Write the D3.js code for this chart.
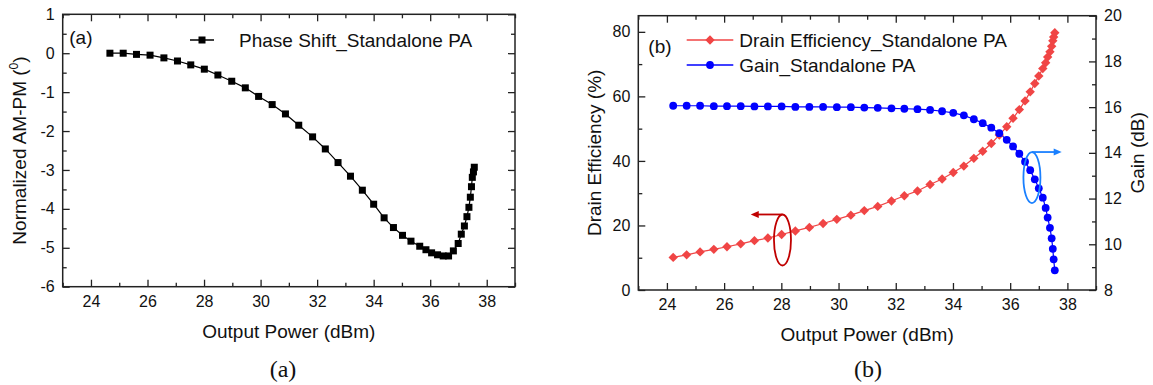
<!DOCTYPE html>
<html>
<head>
<meta charset="utf-8">
<script src="https://cdn.jsdelivr.net/npm/d3@7/dist/d3.min.js"></script>
<style>
  body { margin: 0; background: #fff; }
  svg { display: block; font-family: 'Liberation Sans', Arial, sans-serif; }
</style>
</head>
<body>
<div id="chart"></div>
<script>
// (a) normalized AM-PM vs output power
const phasePout = [24.67, 25.14, 25.61, 26.09, 26.58, 27.06, 27.53, 28.01, 28.49, 28.98,
  29.46, 29.93, 30.41, 30.88, 31.35, 31.84, 32.29, 32.74, 33.18, 33.6,
  34.0, 34.37, 34.7, 35.02, 35.32, 35.63, 35.85, 36.05, 36.26, 36.46,
  36.65, 36.82, 36.99, 37.1, 37.21, 37.3, 37.37, 37.42, 37.46, 37.49, 37.53, 37.56];
const phaseShift = [0, 0, -0.03, -0.05, -0.12, -0.2, -0.3, -0.41, -0.56, -0.72,
  -0.89, -1.11, -1.32, -1.56, -1.85, -2.15, -2.46, -2.81, -3.16, -3.52,
  -3.88, -4.23, -4.48, -4.68, -4.83, -4.96, -5.05, -5.13, -5.18, -5.21,
  -5.21, -5.08, -4.89, -4.65, -4.44, -4.2, -3.96, -3.7, -3.43, -3.19, -3.05, -2.93];

// (b) drain efficiency and gain vs output power
const pout = [24.22, 24.69, 25.16, 25.64, 26.1, 26.58, 27.06, 27.53, 28.01, 28.49,
  28.98, 29.46, 29.94, 30.43, 30.9, 31.37, 31.85, 32.3, 32.76, 33.2,
  33.62, 34.01, 34.38, 34.73, 35.04, 35.34, 35.62, 35.88, 36.1, 36.32,
  36.52, 36.7, 36.86, 37.0, 37.14, 37.24, 37.31, 37.39, 37.45, 37.49, 37.52, 37.56];
const drainEff = [10.1, 10.9, 11.8, 12.6, 13.4, 14.3, 15.3, 16.1, 17.2, 18.3,
  19.4, 20.6, 21.9, 23.2, 24.6, 25.9, 27.6, 29.2, 30.7, 32.7,
  34.4, 36.4, 38.4, 40.8, 43.0, 45.4, 48.0, 50.6, 53.2, 55.9,
  58.6, 61.4, 64.0, 66.3, 68.6, 70.4, 72.2, 73.8, 75.5, 77.2, 78.4, 79.7];
const gain = [16.06, 16.06, 16.06, 16.04, 16.04, 16.04, 16.03, 16.03, 16.03, 16.01,
  16.01, 16.01, 16.0, 16.0, 15.98, 15.97, 15.95, 15.93, 15.91, 15.88,
  15.82, 15.75, 15.64, 15.47, 15.3, 15.1, 14.86, 14.57, 14.28, 13.96,
  13.61, 13.24, 12.84, 12.45, 12.04, 11.59, 11.17, 10.72, 10.26, 9.8, 9.34, 8.86];

const xTicks = [24, 26, 28, 30, 32, 34, 36, 38];
const phaseTicks = [1, 0, -1, -2, -3, -4, -5, -6];
const deTicks = [0, 20, 40, 60, 80];
const gainTicks = [8, 10, 12, 14, 16, 18, 20];

// annotation anchors (data units): ellipse centre and arrow end
const deNote = { x: 28.04, y: 15.5, toX: 26.93 };
const gainNote = { x: 36.76, y: 12.92, toX: 37.8 };

const W = 1153, H = 385;
const AXIS = '#222';
const RED = '#f04545', BLUE = '#0000ff';
const plain = (d) => String(d); // keep ASCII hyphen for negatives

const svg = d3.select('#chart').append('svg').attr('width', W).attr('height', H);

function range(a, b, s) {
  const out = [];
  for (let v = a; v <= b + 1e-9; v += s) out.push(+v.toFixed(4));
  return out;
}

function styleAxis(sel) {
  sel.select('.domain').remove();
  sel.selectAll('line').attr('stroke', AXIS).attr('stroke-width', 1.3);
  sel.selectAll('text').attr('font-size', 16).attr('fill', '#111')
    .attr('font-family', "'Liberation Sans', Arial, sans-serif");
}

function frame(g, x, box) {
  const minorX = range(23, 39, 1).filter((v) => !xTicks.includes(v));
  g.append('g').attr('transform', `translate(0,${box.h})`)
    .call(d3.axisBottom(x).tickValues(xTicks).tickSizeInner(-7).tickSizeOuter(0).tickPadding(9).tickFormat(plain))
    .call(styleAxis);
  g.append('g').attr('transform', `translate(0,${box.h})`)
    .call(d3.axisBottom(x).tickValues(minorX).tickSizeInner(-4).tickSizeOuter(0).tickFormat(''))
    .call(styleAxis);
  g.append('g').call(d3.axisTop(x).tickValues(xTicks).tickSizeInner(-7).tickSizeOuter(0).tickFormat(''))
    .call(styleAxis);
  g.append('g').call(d3.axisTop(x).tickValues(minorX).tickSizeInner(-4).tickSizeOuter(0).tickFormat(''))
    .call(styleAxis);
  g.append('rect').attr('width', box.w).attr('height', box.h)
    .attr('fill', 'none').attr('stroke', AXIS).attr('stroke-width', 1.5);
}

function yAxis(g, y, ticks, minor, box, side, labelled) {
  const ax = side === 'left' ? d3.axisLeft : d3.axisRight;
  const tr = side === 'left' ? null : `translate(${box.w},0)`;
  g.append('g').attr('transform', tr)
    .call(ax(y).tickValues(ticks).tickSizeInner(-7).tickSizeOuter(0).tickPadding(8)
      .tickFormat(labelled ? plain : ''))
    .call(styleAxis);
  g.append('g').attr('transform', tr)
    .call(ax(y).tickValues(minor).tickSizeInner(-4).tickSizeOuter(0).tickFormat(''))
    .call(styleAxis);
}

// ---------- panel (a) ----------
const boxA = { l: 62.7, t: 14.3, w: 515 - 62.7, h: 286.7 - 14.3 };
const gA = svg.append('g').attr('transform', `translate(${boxA.l},${boxA.t})`);
const xA = d3.scaleLinear().domain([23, 39]).range([0, boxA.w]);
const yA = d3.scaleLinear().domain([-6, 1]).range([boxA.h, 0]);

yAxis(gA, yA, phaseTicks, range(-5.5, 0.5, 1), boxA, 'left', true);
yAxis(gA, yA, phaseTicks, range(-5.5, 0.5, 1), boxA, 'right', false);
frame(gA, xA, boxA);

const phasePts = phasePout.map((p, i) => [p, phaseShift[i]]);
gA.append('path').datum(phasePts)
  .attr('fill', 'none').attr('stroke', '#000').attr('stroke-width', 1.2)
  .attr('d', d3.line().x((d) => xA(d[0])).y((d) => yA(d[1])));
gA.selectAll('rect.pt').data(phasePts).join('rect').attr('class', 'pt')
  .attr('x', (d) => xA(d[0]) - 3.5).attr('y', (d) => yA(d[1]) - 3.5)
  .attr('width', 7).attr('height', 7).attr('fill', '#000');

gA.append('text').attr('x', 69.3 - boxA.l).attr('y', 44.5 - boxA.t)
  .attr('font-size', 19).attr('fill', '#111').text('(a)');
// legend (a)
const legA = gA.append('g').attr('transform', `translate(${190 - boxA.l},${40 - boxA.t})`);
legA.append('line').attr('x1', 0).attr('x2', 24).attr('stroke', '#000').attr('stroke-width', 1.5);
legA.append('rect').attr('x', 12 - 3.5).attr('y', -3.5).attr('width', 7).attr('height', 7).attr('fill', '#000');
legA.append('text').attr('x', 49).attr('y', 6.5).attr('font-size', 19).attr('fill', '#111')
  .text('Phase Shift_Standalone PA');

// titles (a)
svg.append('text').attr('x', (62.7 + 515) / 2).attr('y', 338).attr('text-anchor', 'middle')
  .attr('font-size', 19).attr('fill', '#111').text('Output Power (dBm)');
const tA = svg.append('text').attr('transform', `translate(26,${(14.3 + 286.7) / 2}) rotate(-90)`)
  .attr('text-anchor', 'middle').attr('font-size', 19).attr('fill', '#111');
tA.append('tspan').text('Normalized AM-PM (');
tA.append('tspan').attr('font-size', 12).attr('dy', -8).text('0');
tA.append('tspan').attr('dy', 8).text(')');

// ---------- panel (b) ----------
const boxB = { l: 638.3, t: 15.7, w: 1096 - 638.3, h: 290 - 15.7 };
const gB = svg.append('g').attr('transform', `translate(${boxB.l},${boxB.t})`);
const xB = d3.scaleLinear().domain([23, 39]).range([0, boxB.w]);
const yDE = d3.scaleLinear().domain([0, 85]).range([boxB.h, 0]);
const yG = d3.scaleLinear().domain([8, 20]).range([boxB.h, 0]);

yAxis(gB, yDE, deTicks, [10, 30, 50, 70], boxB, 'left', true);
yAxis(gB, yG, gainTicks, range(9, 19, 2), boxB, 'right', true);
frame(gB, xB, boxB);

const dePts = pout.map((p, i) => [p, drainEff[i]]);
const gPts = pout.map((p, i) => [p, gain[i]]);

gB.append('path').datum(dePts)
  .attr('fill', 'none').attr('stroke', RED).attr('stroke-width', 1.2)
  .attr('d', d3.line().x((d) => xB(d[0])).y((d) => yDE(d[1])));
gB.append('path').datum(gPts)
  .attr('fill', 'none').attr('stroke', BLUE).attr('stroke-width', 1.2)
  .attr('d', d3.line().x((d) => xB(d[0])).y((d) => yG(d[1])));

const diamond = (cx, cy, r) => `M${cx},${cy - r}L${cx + r},${cy}L${cx},${cy + r}L${cx - r},${cy}Z`;
gB.selectAll('path.de').data(dePts).join('path').attr('class', 'de')
  .attr('d', (d) => diamond(xB(d[0]), yDE(d[1]), 4.7)).attr('fill', RED);
gB.selectAll('circle.g').data(gPts).join('circle').attr('class', 'g')
  .attr('cx', (d) => xB(d[0])).attr('cy', (d) => yG(d[1])).attr('r', 3.9).attr('fill', BLUE);

// annotation ellipses + arrows
function note(n, y, color, dir) {
  const cx = xB(n.x), cy = y(n.y), ry = 25.5, rx = 8.5;
  gB.append('ellipse').attr('cx', cx).attr('cy', cy).attr('rx', rx).attr('ry', ry)
    .attr('fill', 'none').attr('stroke', color).attr('stroke-width', 1.8);
  const ay = cy - ry, ex = xB(n.toX);
  gB.append('line').attr('x1', cx).attr('y1', ay).attr('x2', ex - dir * 6).attr('y2', ay)
    .attr('stroke', color).attr('stroke-width', 1.8);
  gB.append('path').attr('d', `M${ex},${ay}L${ex - dir * 8},${ay - 3.5}L${ex - dir * 8},${ay + 3.5}Z`)
    .attr('fill', color);
}
note(deNote, yDE, '#c00000', -1);
note(gainNote, yG, '#1a80ff', 1);

gB.append('text').attr('x', 648.3 - boxB.l).attr('y', 53.5 - boxB.t)
  .attr('font-size', 19).attr('fill', '#111').text('(b)');

// legend (b)
const legB = gB.append('g').attr('transform', `translate(${686.7 - boxB.l},${40 - boxB.t})`);
[['Drain Efficiency_Standalone PA', RED, 'd'], ['Gain_Standalone PA', BLUE, 'c']].forEach(([lbl, c, m], i) => {
  const r = legB.append('g').attr('transform', `translate(0,${i * 25})`);
  r.append('line').attr('x1', 0).attr('x2', 46.6).attr('stroke', c).attr('stroke-width', 1.5);
  if (m === 'd') r.append('path').attr('d', diamond(23.3, 0, 4.7)).attr('fill', c);
  else r.append('circle').attr('cx', 23.3).attr('r', 3.9).attr('fill', c);
  r.append('text').attr('x', 52.6).attr('y', 6.5).attr('font-size', 19).attr('fill', '#111').text(lbl);
});

// titles (b)
svg.append('text').attr('x', (638.3 + 1096) / 2).attr('y', 341).attr('text-anchor', 'middle')
  .attr('font-size', 19).attr('fill', '#111').text('Output Power (dBm)');
svg.append('text').attr('transform', `translate(601,${(15.7 + 290) / 2}) rotate(-90)`)
  .attr('text-anchor', 'middle').attr('font-size', 19).attr('fill', '#111').text('Drain Efficiency (%)');
svg.append('text').attr('transform', `translate(1144,${(15.7 + 290) / 2}) rotate(-90)`)
  .attr('text-anchor', 'middle').attr('font-size', 19).attr('fill', '#111').text('Gain (dB)');

// captions
svg.append('text').attr('x', 283).attr('y', 377).attr('text-anchor', 'middle')
  .attr('font-family', "'Liberation Serif', 'Times New Roman', serif").attr('font-size', 24)
  .attr('fill', '#111').text('(a)');
svg.append('text').attr('x', 868).attr('y', 377).attr('text-anchor', 'middle')
  .attr('font-family', "'Liberation Serif', 'Times New Roman', serif").attr('font-size', 24)
  .attr('fill', '#111').text('(b)');
</script>
</body>
</html>
